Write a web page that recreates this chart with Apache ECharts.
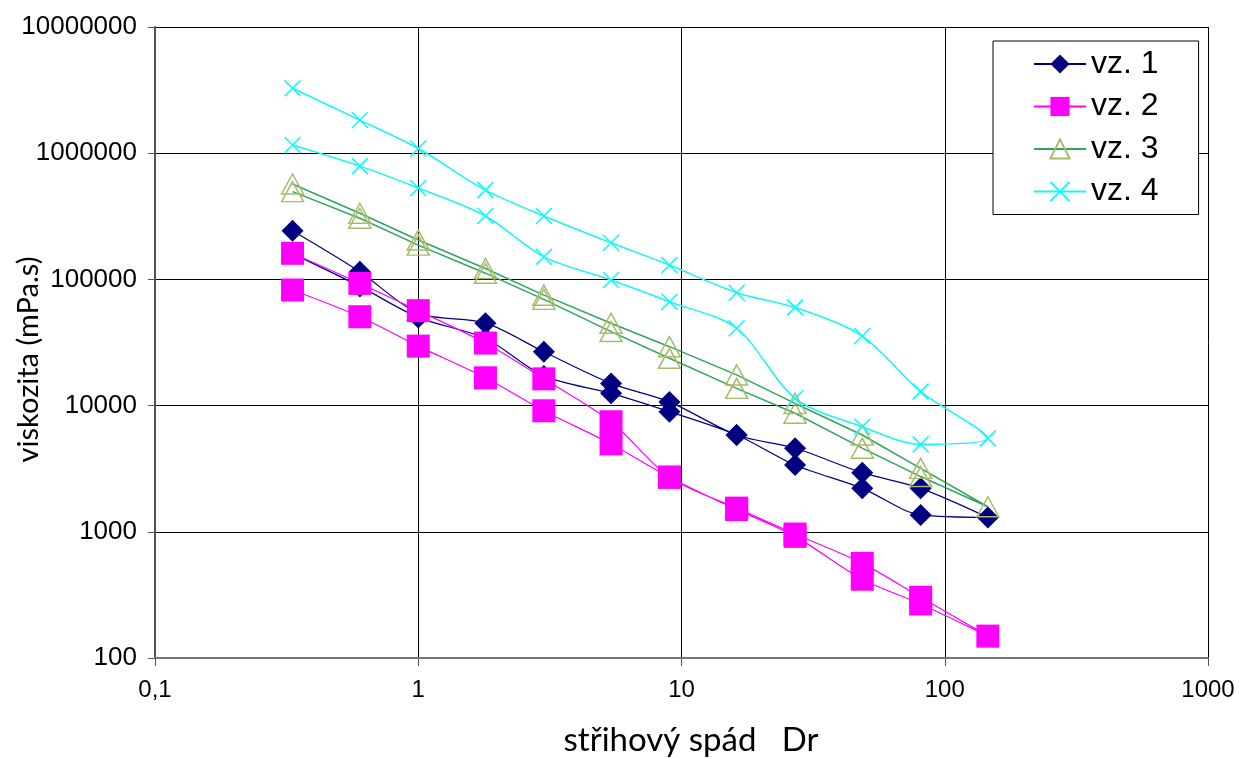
<!DOCTYPE html>
<html>
<head>
<meta charset="utf-8">
<title>viskozita</title>
<script src="https://cdn.jsdelivr.net/npm/echarts@6/dist/echarts.min.js"></script>
<style>
  html, body { margin: 0; padding: 0; background: #fff; }
  #chart { width: 1239px; height: 758px; }
</style>
</head>
<body>
<div id="chart"></div>
<script>
// shear rates of the rheometer (x values)
const shearRates = [0.333, 0.6, 1, 1.8, 3, 5.4, 9, 16.2, 27, 48.6, 81, 145.8];
const seriesNames = ["vz. 1", "vz. 2", "vz. 3", "vz. 4"];

// each sample is measured up to 145.8 and back down again (down sweep listed by rate, 0.333 .. 81)
const vz1Up = [243000, 115000, 54000, 45000, 26700, 15000, 10700, 5850, 4590, 2940, 2210, 1300];
const vz1Down = [160000, 88000, 50000, 34000, 17200, 12500, 8950, 5850, 3380, 2210, 1360];
const vz2Up = [161000, 93000, 56500, 31300, 16300, 7450, 2710, 1540, 960, 562, 303, 149];
const vz2Down = [82400, 50600, 29600, 16600, 9100, 4970, 2710, 1500, 920, 421, 268];
const vz3Up = [570000, 334000, 205000, 122000, 75000, 44900, 29300, 17500, 10400, 5850, 3180, 1580];
const vz3Down = [496000, 305000, 187000, 112000, 69500, 38600, 23700, 13700, 8700, 4600, 2740];
const vz4Up = [3270000, 1830000, 1090000, 510000, 318000, 195000, 130000, 78500, 60000, 35600, 12900, 5500];
const vz4Down = [1160000, 790000, 530000, 318000, 151000, 99000, 66600, 41000, 11400, 6800, 4930];

const xRange = [0.1, 1000];
const yRange = [100, 10000000];

function loop(up, down) {
  const pts = up.map(function (v, i) { return [shearRates[i], v]; });
  for (let i = down.length - 1; i >= 0; i--) {
    pts.push([shearRates[i], down[i]]);
  }
  return pts;
}

const labelFont = "'Liberation Sans', Arial, sans-serif";
const titleFont = "Lato, 'Open Sans', sans-serif";

document.addEventListener("DOMContentLoaded", function () {
  const myChart = echarts.init(document.getElementById("chart"));
  const option = {
    animation: false,
    backgroundColor: "#fff",
    grid: {
      left: 155,
      right: 31,
      top: 27,
      bottom: 100,
      containLabel: false,
      outerBoundsMode: "none",
    },
    legend: {
      data: seriesNames,
      orient: "vertical",
      left: 993,
      top: 41,
      padding: [7, 40, 7, 40],
      itemWidth: 52,
      itemHeight: 24,
      itemGap: 10.5,
      backgroundColor: "#fff",
      borderColor: "#000",
      borderWidth: 1,
      borderRadius: 0,
      selectedMode: false,
      textStyle: {
        fontSize: 32,
        color: "#000",
        fontFamily: labelFont,
      },
    },
    xAxis: {
      type: "log",
      logBase: 10,
      min: xRange[0],
      max: xRange[1],
      name: "střihový spád   Dr",
      nameLocation: "middle",
      nameGap: 66,
      nameMoveOverlap: false,
      nameTextStyle: {
        fontSize: 33,
        color: "#000",
        fontFamily: titleFont,
        padding: [0, 0, 0, 19],
      },
      axisLine: {
        show: true,
        lineStyle: { color: "#777", width: 2 },
      },
      axisTick: {
        show: true,
        inside: false,
        length: 8,
        lineStyle: { color: "#555", width: 1 },
      },
      axisLabel: {
        margin: 20,
        fontSize: 24,
        color: "#000",
        fontFamily: labelFont,
        formatter: function (v) {
          return (v < 1 ? v.toFixed(1) : String(Math.round(v))).replace(".", ",");
        },
      },
      splitLine: {
        show: true,
        lineStyle: { color: "#000", width: 1 },
      },
    },
    yAxis: {
      type: "log",
      logBase: 10,
      min: yRange[0],
      max: yRange[1],
      name: "viskozita (mPa.s)",
      nameLocation: "middle",
      nameRotate: 90,
      nameGap: 112,
      nameMoveOverlap: false,
      nameTextStyle: {
        fontSize: 29,
        color: "#000",
        fontFamily: titleFont,
        padding: [0, 34, 0, 0],
      },
      axisLine: {
        show: true,
        lineStyle: { color: "#555", width: 2 },
      },
      axisTick: {
        show: true,
        inside: false,
        length: 7,
        lineStyle: { color: "#555", width: 1 },
      },
      axisLabel: {
        margin: 18,
        fontSize: 26,
        color: "#000",
        fontFamily: labelFont,
        formatter: function (v) {
          return String(Math.round(v));
        },
      },
      splitLine: {
        show: true,
        lineStyle: { color: "#000", width: 1 },
      },
    },
    series: [
      {
        name: seriesNames[0],
        type: "line",
        data: loop(vz1Up, vz1Down),
        smooth: 0.3,
        symbol: "diamond",
        symbolSize: 22,
        lineStyle: { color: "#000080", width: 1.2 },
        itemStyle: { color: "#000080" },
      },
      {
        name: seriesNames[1],
        type: "line",
        data: loop(vz2Up, vz2Down),
        smooth: 0.3,
        symbol: "rect",
        symbolSize: 23,
        lineStyle: { color: "#ff00ff", width: 1.2 },
        itemStyle: { color: "#ff00ff" },
      },
      {
        name: seriesNames[2],
        type: "line",
        data: loop(vz3Up, vz3Down),
        smooth: false,
        symbol: "triangle",
        symbolSize: [22, 20],
        lineStyle: { color: "#2fa65c", width: 1.5 },
        itemStyle: {
          color: "rgba(0,0,0,0)",
          borderColor: "#a8bb6c",
          borderWidth: 1.5,
        },
      },
      {
        name: seriesNames[3],
        type: "line",
        data: loop(vz4Up, vz4Down),
        smooth: 0.3,
        symbol: "path://M0,0L10,10M10,0L0,10",
        symbolSize: 16,
        lineStyle: { color: "#19f5f5", width: 1.5 },
        itemStyle: {
          color: "#00ffff",
          borderColor: "#00ffff",
          borderWidth: 1.5,
        },
      },
    ],
  };
  myChart.setOption(option);
});
</script>
</body>
</html>
